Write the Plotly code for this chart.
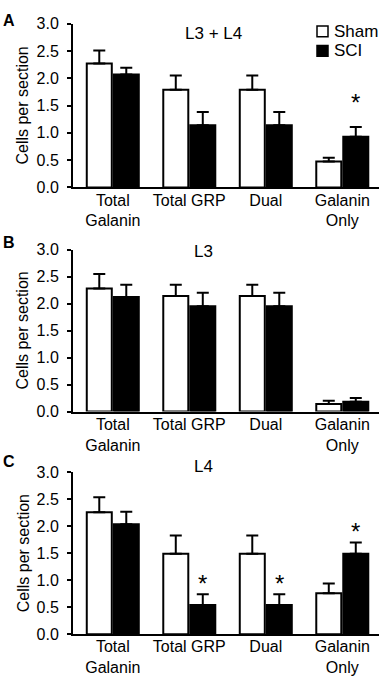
import plotly.graph_objects as go

categories = ["Total<br>Galanin", "Total GRP", "Dual", "Galanin<br>Only"]

a_sham = [2.27, 1.79, 1.79, 0.475]
a_sham_err = [0.24, 0.26, 0.26, 0.07]
a_sci = [2.07, 1.14, 1.14, 0.93]
a_sci_err = [0.12, 0.24, 0.24, 0.175]

b_sham = [2.28, 2.14, 2.14, 0.14]
b_sham_err = [0.27, 0.21, 0.21, 0.06]
b_sci = [2.12, 1.95, 1.95, 0.18]
b_sci_err = [0.23, 0.25, 0.25, 0.07]

c_sham = [2.26, 1.49, 1.49, 0.76]
c_sham_err = [0.28, 0.34, 0.34, 0.18]
c_sci = [2.04, 0.54, 0.54, 1.49]
c_sci_err = [0.23, 0.20, 0.20, 0.21]

panel_titles = ["L3 + L4", "L3", "L4"]
panel_letters = ["A", "B", "C"]
# significant SCI bars (category indices) per panel
stars = [[3], [], [1, 2, 3]]

W, H = 383, 692
ML, MR = 73, 4
PW = W - ML - MR
FONT = "Liberation Sans, Arial, sans-serif"


def px2x(px):
    return (px - ML) / PW


def py2y(py):
    return 1 - py / H


panels = [
    (a_sham, a_sham_err, a_sci, a_sci_err),
    (b_sham, b_sham_err, b_sci, b_sci_err),
    (c_sham, c_sham_err, c_sci, c_sci_err),
]
# pixel rows of each plot area (top, bottom)
rows_px = [(16, 184), (247.7, 413.7), (476, 642)]
title_px = [(213, 26), (203, 250), (203, 470)]
letter_px = [(9, 13), (9, 240), (9, 465)]
star_shift = [9, 0, -5]

BW = 0.327
fig = go.Figure()
annotations = []
shapes = []
layout = {}

for i, (sham, sham_e, sci, sci_e) in enumerate(panels):
    sfx = "" if i == 0 else str(i + 1)
    xa, ya = "x" + sfx, "y" + sfx
    fig.add_trace(go.Bar(
        x=categories, y=sham, name="Sham", xaxis=xa, yaxis=ya,
        width=BW, offset=-0.34,
        marker=dict(color="white", line=dict(color="black", width=2)),
        error_y=dict(type="data", array=sham_e, arrayminus=[0] * 4, symmetric=False,
                     color="black", thickness=2, width=6),
        showlegend=False, hoverinfo="skip",
    ))
    fig.add_trace(go.Bar(
        x=categories, y=sci, name="SCI", xaxis=xa, yaxis=ya,
        width=BW, offset=0.013,
        marker=dict(color="black", line=dict(color="black", width=2)),
        error_y=dict(type="data", array=sci_e, arrayminus=[0] * 4, symmetric=False,
                     color="black", thickness=2, width=6),
        showlegend=False, hoverinfo="skip",
    ))
    top, bot = rows_px[i]
    layout["xaxis" + sfx] = dict(
        domain=[0, 1], anchor=ya, type="category", range=[-0.52, 3.48],
        showline=True, linewidth=2, linecolor="black", ticks="",
        showgrid=False, zeroline=False, ticklabelstandoff=-3,
        tickfont=dict(family=FONT, size=16, color="black"),
    )
    layout["yaxis" + sfx] = dict(
        domain=[py2y(bot), py2y(top)], anchor=xa, range=[0, 3], dtick=0.5,
        tickformat=".1f", showline=True, linewidth=2, linecolor="black",
        ticks="outside", ticklen=4, tickwidth=2, tickcolor="black",
        showgrid=False, zeroline=False, ticklabelstandoff=5,
        tickfont=dict(family=FONT, size=16, color="black"),
    )
    annotations.append(dict(
        text="Cells per section", xref="paper", yref="paper",
        x=px2x(23), y=py2y((top + bot) / 2), textangle=-90,
        showarrow=False, xanchor="center", yanchor="middle",
        font=dict(family=FONT, size=16, color="black"),
    ))
    tx, ty = title_px[i]
    annotations.append(dict(
        text=panel_titles[i], xref="paper", yref="paper",
        x=px2x(tx), y=py2y(ty), showarrow=False,
        xanchor="center", yanchor="middle",
        font=dict(family=FONT, size=17, color="black"),
    ))
    lx, ly = letter_px[i]
    annotations.append(dict(
        text="<b>" + panel_letters[i] + "</b>", xref="paper", yref="paper",
        x=px2x(lx), y=py2y(ly), showarrow=False,
        xanchor="center", yanchor="middle",
        font=dict(family=FONT, size=16, color="black"),
    ))
    for k in stars[i]:
        annotations.append(dict(
            text="*", xref=xa, yref=ya, x=categories[k], y=sci[k] + sci_e[k],
            xshift=13.5, yshift=star_shift[i], showarrow=False,
            xanchor="center", yanchor="bottom",
            font=dict(family=FONT, size=24, color="black"),
        ))

# legend (panel A)
legend_items = [("Sham", "white", 24), ("SCI", "black", 44)]
for name, col, cy in legend_items:
    shapes.append(dict(
        type="rect", xref="paper", yref="paper",
        x0=px2x(317), x1=px2x(328), y0=py2y(cy + 5.5), y1=py2y(cy - 5.5),
        line=dict(color="black", width=1.5), fillcolor=col,
    ))
    annotations.append(dict(
        text=name, xref="paper", yref="paper", x=px2x(332), y=py2y(cy),
        showarrow=False, xanchor="left", yanchor="middle",
        font=dict(family=FONT, size=17, color="black"),
    ))

fig.update_layout(
    width=W, height=H, margin=dict(l=ML, r=MR, t=0, b=0),
    paper_bgcolor="white", plot_bgcolor="white",
    barmode="overlay", showlegend=False, hovermode=False,
    annotations=annotations, shapes=shapes,
    font=dict(family=FONT, size=15, color="black"),
    **layout,
)

fig.write_html("out.html", config={"displayModeBar": False},
               post_script="document.body.style.margin='0';")
